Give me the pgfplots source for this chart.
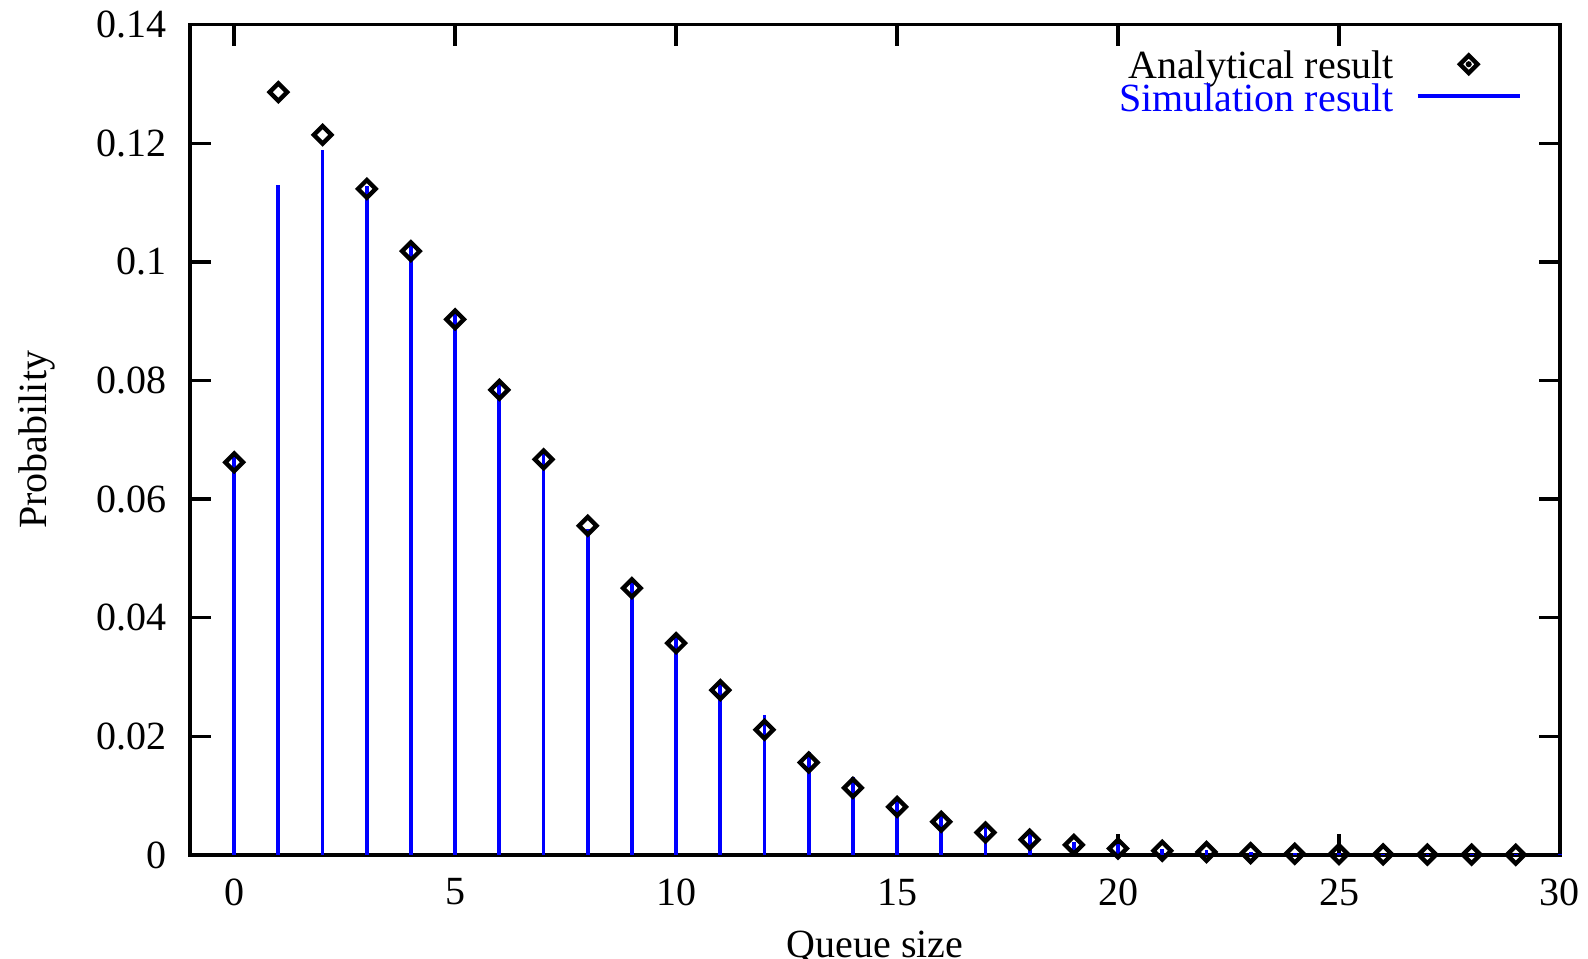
\documentclass[border=0pt]{standalone}
\usepackage{fontspec}
\setmainfont{Liberation Serif}
\usepackage{pgfplots}
\pgfplotsset{compat=1.18}
\pgfplotsset{
  anlegend/.style={legend image code/.code={%
    \draw[##1, mark repeat=2, mark phase=2] plot coordinates {(0pt,1.5pt) (12.75pt,1.5pt) (25.5pt,1.5pt)};
    \fill[black] (12.75pt,1.5pt) circle (0.55pt);}},
  simlegend/.style={legend image code/.code={%
    \draw[##1] (0pt,1.7pt) -- (25.5pt,1.7pt);}},
}
\pgfplotstableread{
x y
0 0.0662
1 0.1286
2 0.1214
3 0.1123
4 0.1018
5 0.0903
6 0.0784
7 0.0667
8 0.0555
9 0.0450
10 0.0357
11 0.0278
12 0.0211
13 0.0156
14 0.0113
15 0.0081
16 0.0056
17 0.0038
18 0.0026
19 0.0017
20 0.0011
21 0.0007
22 0.0005
23 0.0003
24 0.0002
25 0.00015
26 0.0001
27 0.00007
28 0.00005
29 0.00003
}\analytical
\pgfplotstableread{
x y
0 0.0677
1 0.1129
2 0.1188
3 0.1128
4 0.1027
5 0.0916
6 0.0796
7 0.0677
8 0.0549
9 0.0461
10 0.0367
11 0.0290
12 0.0236
13 0.0174
14 0.0131
15 0.0094
16 0.0073
17 0.0051
18 0.0037
19 0.0022
20 0.0018
21 0.0010
22 0.0008
23 0.0005
24 0.0004
25 0.0003
26 0.0002
27 0.0002
28 0.0001
29 0.0001
30 0.0001
}\simulation
\begin{document}
\fontsize{10}{12}\selectfont
\begin{tikzpicture}
\begin{axis}[
  scale only axis,
  width=342.5pt, height=207.6pt,
  xmin=-1, xmax=30, ymin=0, ymax=0.14,
  xtick={0,5,10,15,20,25,30},
  ytick={0,0.02,0.04,0.06,0.08,0.1,0.12,0.14},
  yticklabels={0,0.02,0.04,0.06,0.08,0.1,0.12,0.14},
  /pgf/number format/assume math mode=true,
  tick pos=both,
  tick align=inside,
  major tick length=5.25pt,
  axis line style={line width=0.85pt, black},
  every tick/.style={line width=0.85pt, black},
  yticklabel style={xshift=-2.4pt},
  xticklabel style={yshift=-2.4pt},
  clip=false,
  xlabel={Queue size},
  ylabel={Probability},
  xlabel style={at={(axis description cs:0.5,-0.123)}, anchor=base},
  ylabel style={at={(axis description cs:-0.1044,0.5)}, anchor=base},
  legend plot pos=right,
  legend cell align=right,
  legend style={
    at={(axis description cs:0.972,0.9648)}, anchor=north east,
    draw=none, fill=none, inner sep=0pt, outer sep=0pt,
    nodes={inner sep=0pt, text height=6.2pt, text depth=2pt},
    column sep=5.5pt, row sep=0pt,
  },
]
\addplot[only marks, mark=square, mark size=1.55pt,
  mark options={rotate=45, line width=1.1pt, black, solid}, anlegend]
  table[x=x, y=y] {\analytical};
\addlegendentry{Analytical result}
\addplot[ycomb, color=blue, line width=0.95pt, no marks, simlegend]
  table[x=x, y=y] {\simulation};
\addlegendentry[text=blue]{Simulation result}
\end{axis}
\pgfresetboundingbox
\path[use as bounding box] ([shift={(-47.5pt,-26pt)}]current axis.south west) rectangle ++(397pt,239.75pt);
\end{tikzpicture}
\end{document}
